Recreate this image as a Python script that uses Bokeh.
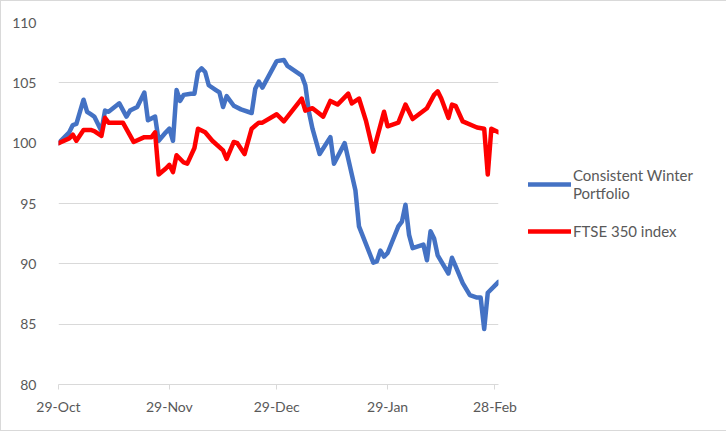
import pandas as pd
from bokeh.plotting import figure
from bokeh.models import Legend, LegendItem, FixedTicker, DatetimeTickFormatter, Range1d
from bokeh.embed import file_html
from bokeh.resources import INLINE

# ---- data ----
blue_dates = ["2018-10-29", "2018-11-01", "2018-11-02", "2018-11-03", "2018-11-05", "2018-11-06",
              "2018-11-07", "2018-11-08", "2018-11-10", "2018-11-11", "2018-11-12", "2018-11-15",
              "2018-11-17", "2018-11-18", "2018-11-20", "2018-11-22", "2018-11-23", "2018-11-25",
              "2018-11-26", "2018-11-28", "2018-11-29", "2018-11-30", "2018-12-01", "2018-12-02",
              "2018-12-03", "2018-12-05", "2018-12-06", "2018-12-07", "2018-12-08", "2018-12-09",
              "2018-12-10", "2018-12-12", "2018-12-13", "2018-12-14", "2018-12-15", "2018-12-17",
              "2018-12-19", "2018-12-22", "2018-12-23", "2018-12-24", "2018-12-25", "2018-12-29",
              "2018-12-31", "2019-01-01", "2019-01-05", "2019-01-06", "2019-01-07", "2019-01-08",
              "2019-01-10", "2019-01-13", "2019-01-14", "2019-01-17", "2019-01-20", "2019-01-21",
              "2019-01-25", "2019-01-26", "2019-01-27", "2019-01-28", "2019-01-29", "2019-02-01",
              "2019-02-02", "2019-02-03", "2019-02-04", "2019-02-05", "2019-02-08", "2019-02-09",
              "2019-02-10", "2019-02-11", "2019-02-12", "2019-02-15", "2019-02-16", "2019-02-17",
              "2019-02-19", "2019-02-21", "2019-02-23", "2019-02-24", "2019-02-25", "2019-02-26",
              "2019-03-01"]
blue_values = [100.0, 100.9, 101.5, 101.6, 103.6, 102.6,
               102.4, 102.2, 101.0, 102.7, 102.6, 103.3,
               102.2, 102.7, 103.0, 104.2, 101.9, 102.2,
               100.2, 100.9, 101.2, 100.2, 104.4, 103.5,
               104.0, 104.1, 104.1, 105.9, 106.2, 105.9,
               104.8, 104.4, 104.2, 103.0, 103.9, 103.1,
               102.8, 102.5, 104.5, 105.1, 104.6, 106.8,
               106.9, 106.4, 105.6, 104.8, 102.6, 101.2,
               99.1, 100.5, 98.3, 100.0, 96.1, 93.1,
               90.1, 90.2, 91.1, 90.6, 90.9, 93.1,
               93.5, 94.9, 92.4, 91.3, 91.6, 90.3,
               92.7, 92.1, 90.7, 89.2, 90.5, 89.8,
               88.4, 87.4, 87.2, 87.2, 84.6, 87.6,
               88.5]

red_dates = ["2018-10-29", "2018-11-01", "2018-11-02", "2018-11-03", "2018-11-05", "2018-11-07",
             "2018-11-08", "2018-11-10", "2018-11-11", "2018-11-12", "2018-11-14", "2018-11-16",
             "2018-11-19", "2018-11-22", "2018-11-24", "2018-11-25", "2018-11-26", "2018-11-28",
             "2018-11-29", "2018-11-30", "2018-12-01", "2018-12-03", "2018-12-04", "2018-12-06",
             "2018-12-07", "2018-12-09", "2018-12-11", "2018-12-14", "2018-12-15", "2018-12-17",
             "2018-12-18", "2018-12-20", "2018-12-22", "2018-12-24", "2018-12-25", "2018-12-29",
             "2018-12-31", "2019-01-05", "2019-01-06", "2019-01-08", "2019-01-11", "2019-01-13",
             "2019-01-15", "2019-01-18", "2019-01-19", "2019-01-21", "2019-01-23", "2019-01-25",
             "2019-01-28", "2019-01-29", "2019-02-01", "2019-02-03", "2019-02-05", "2019-02-09",
             "2019-02-11", "2019-02-12", "2019-02-13", "2019-02-15", "2019-02-16", "2019-02-17",
             "2019-02-19", "2019-02-23", "2019-02-25", "2019-02-26", "2019-02-27", "2019-03-01"]
red_values = [100.0, 100.4, 100.7, 100.2, 101.1, 101.1,
              101.0, 100.6, 102.1, 101.7, 101.7, 101.7,
              100.1, 100.5, 100.5, 100.9, 97.4, 97.9,
              98.2, 97.6, 99.0, 98.4, 98.3, 99.6,
              101.2, 100.9, 100.2, 99.4, 98.7, 100.1,
              100.0, 99.1, 101.2, 101.7, 101.7, 102.4,
              101.8, 103.7, 102.7, 102.9, 102.2, 103.5,
              103.2, 104.1, 103.3, 103.7, 101.8, 99.3,
              102.6, 101.4, 101.7, 103.2, 102.0, 102.9,
              104.0, 104.3, 103.7, 102.1, 103.2, 103.1,
              101.8, 101.3, 101.2, 97.4, 101.2, 100.9]

tick_dates = ["2018-10-29", "2018-11-29", "2018-12-29", "2019-01-29", "2019-02-28"]
y_ticks = [80, 85, 90, 95, 100, 105, 110]
series_names = ["Consistent Winter\nPortfolio", "FTSE 350 index"]

bx = pd.to_datetime(blue_dates)
rx = pd.to_datetime(red_dates)
ticks_ms = [pd.Timestamp(d).value / 1e6 for d in tick_dates]
x_start = ticks_ms[0]
x_end = pd.Timestamp("2019-03-01").value / 1e6

FONT = "Lato"
GREY = "#595959"
GRID = "#d9d9d9"

p = figure(frame_width=440, frame_height=362, x_axis_type="datetime", output_backend="svg",
           toolbar_location=None, x_range=Range1d(x_start, x_end), y_range=Range1d(80, 110),
           min_border_left=57, min_border_right=225, min_border_top=21, min_border_bottom=46,
           background_fill_color="white", border_fill_color="white",
           styles={"border": "1px solid #d9d9d9"})
p.outline_line_color = None

b = p.line(bx, blue_values, line_color="#4472C4", line_width=4.5, line_join="round", line_cap="round")
r = p.line(rx, red_values, line_color="#FF0000", line_width=4.5, line_join="round", line_cap="round")

p.xaxis.ticker = FixedTicker(ticks=ticks_ms)
p.xaxis.formatter = DatetimeTickFormatter(days="%d-%b", months="%d-%b", years="%d-%b")
p.xaxis.axis_line_color = GRID
p.xaxis.major_tick_line_color = GRID
p.xaxis.major_tick_out = 5
p.xaxis.major_tick_in = 0
p.xaxis.minor_tick_line_color = None
p.xaxis.major_label_standoff = 8
p.xaxis.major_label_text_font = FONT
p.xaxis.major_label_text_font_size = "14px"
p.xaxis.major_label_text_color = GREY

p.yaxis.ticker = FixedTicker(ticks=y_ticks)
p.yaxis.axis_line_color = None
p.yaxis.major_tick_line_color = None
p.yaxis.minor_tick_line_color = None
p.yaxis.major_label_standoff = 16
p.yaxis.major_label_text_font = FONT
p.yaxis.major_label_text_font_size = "14px"
p.yaxis.major_label_text_color = GREY

p.xgrid.grid_line_color = None
p.ygrid.grid_line_color = GRID
p.ygrid.grid_line_width = 1

legend = Legend(items=[LegendItem(label=series_names[0], renderers=[b]),
                       LegendItem(label=series_names[1], renderers=[r])],
                location=(30, 143), orientation="vertical",
                border_line_color=None, background_fill_alpha=0,
                glyph_width=43, label_standoff=2, spacing=19, padding=0, margin=0,
                label_text_font=FONT, label_text_font_size="15px", label_text_color=GREY,
                label_text_line_height=1.45)
p.add_layout(legend, "right")

open("out.html", "w").write(file_html(p, INLINE))
